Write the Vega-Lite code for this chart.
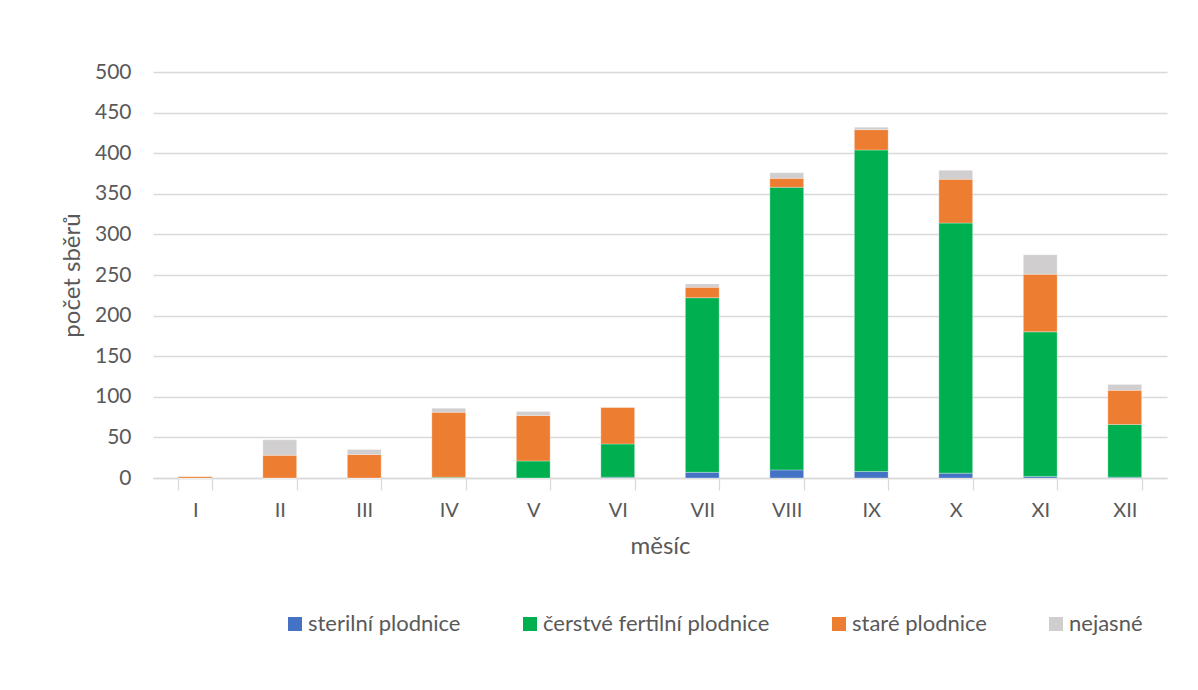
{
  "$schema": "https://vega.github.io/schema/vega-lite/v6.json",
  "width": 1014,
  "height": 406,
  "autosize": {"type": "none"},
  "padding": {"left": 153, "top": 72, "right": 31, "bottom": 212},
  "background": "white",
  "config": {
    "font": "Lato",
    "view": {"stroke": null},
    "axis": {"labelColor": "#595959", "titleColor": "#595959", "labelFont": "Lato", "titleFont": "Lato"}
  },
  "data": {
    "values": [
      {"mesic": "I", "kat": "sterilní plodnice", "n": 0},
      {"mesic": "I", "kat": "čerstvé fertilní plodnice", "n": 0},
      {"mesic": "I", "kat": "staré plodnice", "n": 2},
      {"mesic": "I", "kat": "nejasné", "n": 0},
      {"mesic": "II", "kat": "sterilní plodnice", "n": 0},
      {"mesic": "II", "kat": "čerstvé fertilní plodnice", "n": 0},
      {"mesic": "II", "kat": "staré plodnice", "n": 28},
      {"mesic": "II", "kat": "nejasné", "n": 19},
      {"mesic": "III", "kat": "sterilní plodnice", "n": 0},
      {"mesic": "III", "kat": "čerstvé fertilní plodnice", "n": 0},
      {"mesic": "III", "kat": "staré plodnice", "n": 29},
      {"mesic": "III", "kat": "nejasné", "n": 6},
      {"mesic": "IV", "kat": "sterilní plodnice", "n": 0},
      {"mesic": "IV", "kat": "čerstvé fertilní plodnice", "n": 1},
      {"mesic": "IV", "kat": "staré plodnice", "n": 80},
      {"mesic": "IV", "kat": "nejasné", "n": 5},
      {"mesic": "V", "kat": "sterilní plodnice", "n": 0},
      {"mesic": "V", "kat": "čerstvé fertilní plodnice", "n": 21},
      {"mesic": "V", "kat": "staré plodnice", "n": 56},
      {"mesic": "V", "kat": "nejasné", "n": 5},
      {"mesic": "VI", "kat": "sterilní plodnice", "n": 1},
      {"mesic": "VI", "kat": "čerstvé fertilní plodnice", "n": 41},
      {"mesic": "VI", "kat": "staré plodnice", "n": 45},
      {"mesic": "VI", "kat": "nejasné", "n": 0},
      {"mesic": "VII", "kat": "sterilní plodnice", "n": 7},
      {"mesic": "VII", "kat": "čerstvé fertilní plodnice", "n": 215},
      {"mesic": "VII", "kat": "staré plodnice", "n": 13},
      {"mesic": "VII", "kat": "nejasné", "n": 4},
      {"mesic": "VIII", "kat": "sterilní plodnice", "n": 10},
      {"mesic": "VIII", "kat": "čerstvé fertilní plodnice", "n": 348},
      {"mesic": "VIII", "kat": "staré plodnice", "n": 11},
      {"mesic": "VIII", "kat": "nejasné", "n": 7},
      {"mesic": "IX", "kat": "sterilní plodnice", "n": 8},
      {"mesic": "IX", "kat": "čerstvé fertilní plodnice", "n": 396},
      {"mesic": "IX", "kat": "staré plodnice", "n": 25},
      {"mesic": "IX", "kat": "nejasné", "n": 3},
      {"mesic": "X", "kat": "sterilní plodnice", "n": 6},
      {"mesic": "X", "kat": "čerstvé fertilní plodnice", "n": 308},
      {"mesic": "X", "kat": "staré plodnice", "n": 54},
      {"mesic": "X", "kat": "nejasné", "n": 11},
      {"mesic": "XI", "kat": "sterilní plodnice", "n": 2},
      {"mesic": "XI", "kat": "čerstvé fertilní plodnice", "n": 178},
      {"mesic": "XI", "kat": "staré plodnice", "n": 71},
      {"mesic": "XI", "kat": "nejasné", "n": 24},
      {"mesic": "XII", "kat": "sterilní plodnice", "n": 1},
      {"mesic": "XII", "kat": "čerstvé fertilní plodnice", "n": 65},
      {"mesic": "XII", "kat": "staré plodnice", "n": 42},
      {"mesic": "XII", "kat": "nejasné", "n": 7}
    ]
  },
  "transform": [
    {"calculate": "indexof(['sterilní plodnice','čerstvé fertilní plodnice','staré plodnice','nejasné'], datum.kat)", "as": "ord"}
  ],
  "mark": {"type": "bar", "stroke": "white", "strokeWidth": 0.5, "strokeOpacity": 0.6},
  "encoding": {
    "x": {
      "field": "mesic", "type": "ordinal",
      "sort": ["I","II","III","IV","V","VI","VII","VIII","IX","X","XI","XII"],
      "scale": {"paddingInner": 0.6, "paddingOuter": 0.3},
      "axis": {
        "title": "měsíc", "titleFontSize": 24, "titleFontWeight": "normal", "titlePadding": 14,
        "labelAngle": 0, "labelFontSize": 20, "labelPadding": 10,
        "tickBand": "extent", "tickColor": "#D9D9D9", "tickSize": 12, "tickWidth": 1.3,
        "domainColor": "#D9D9D9", "domainWidth": 1.3, "grid": false
      }
    },
    "y": {
      "field": "n", "type": "quantitative", "stack": "zero",
      "scale": {"domain": [0, 500]},
      "axis": {
        "title": "počet sběrů", "titleFontSize": 24, "titleFontWeight": "normal", "titlePadding": 10,
        "values": [0,50,100,150,200,250,300,350,400,450,500],
        "labelFontSize": 21, "labelPadding": 22, "ticks": false, "domain": false,
        "gridColor": "#D9D9D9", "gridWidth": 1.3
      }
    },
    "color": {
      "field": "kat", "type": "nominal",
      "scale": {
        "domain": ["sterilní plodnice","čerstvé fertilní plodnice","staré plodnice","nejasné"],
        "range": ["#4472C4","#00B050","#ED7D31","#D0CECE"]
      },
      "legend": {
        "title": null, "orient": "none", "direction": "horizontal",
        "legendX": 131, "legendY": 541,
        "symbolType": "square", "symbolSize": 196, "symbolStrokeWidth": 0,
        "labelFontSize": 22, "labelColor": "#595959", "labelOffset": 2,
        "columnPadding": 58, "labelLimit": 500
      }
    },
    "order": {"field": "ord", "type": "quantitative"}
  }
}
